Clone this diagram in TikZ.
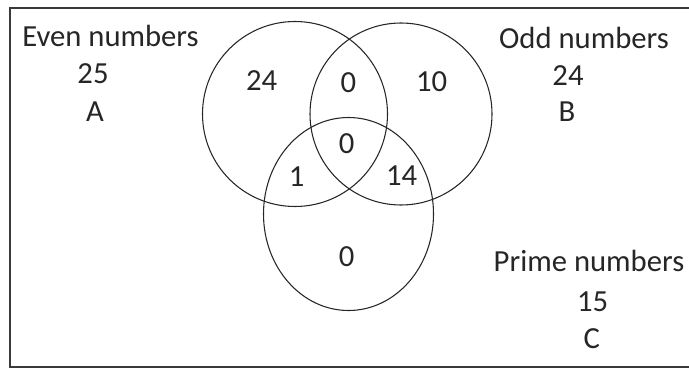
\documentclass[tikz,border=0pt]{standalone}
\usepackage{fontspec}
\setmainfont{Carlito}
\usepackage{tikz}
\usetikzlibrary{positioning}
\definecolor{ink}{HTML}{262626}
\definecolor{rim}{HTML}{3A3A3A}

\begin{document}
\begin{tikzpicture}[x=0.75pt,y=-0.75pt,
  setname/.style={font=\fontsize{23}{27}\selectfont,text=ink,anchor=base,inner sep=0pt},
  count/.style={font=\fontsize{23}{27}\selectfont,text=ink,inner sep=0pt},
  venn/.style={draw=ink,line width=0.8pt}]
  \useasboundingbox (0,0) rectangle (689,371);
  \clip (0,0) rectangle (689,371);
  \draw[rim,line width=1.2pt] (10,8) rectangle (700,367);
  % the three sets
  \draw[venn] (295,114) circle (92.5);
  \draw[venn] (401,114) circle (91);
  \draw[venn] (348.5,214) ellipse (85 and 96.5);
  % set names and totals
  \node[setname] (evenlbl) at (110.5,46.7) {Even numbers};
  \node[setname] (evencnt) at (93,83) {25};
  \node[setname] (evenA) at (95,121.7) {A};
  \node[setname] (oddlbl) at (584,48.3) {Odd numbers};
  \node[setname] (oddcnt) at (568,85) {24};
  \node[setname] (oddB) at (567,121.7) {B};
  \node[setname] (primelbl) at (589,271.7) {Prime numbers};
  \node[setname] (primecnt) at (592.7,311.7) {15};
  \node[setname] (primeC) at (591.7,348) {C};
  % region counts
  \foreach \nm/\x/\y/\v in {onlyA/261.7/80.5/24,AB/348.3/82.7/0,onlyB/431.7/82/10,
      ABC/346.7/144/0,AC/296.7/176.7/1,BC/401.7/176/14,onlyC/346.7/256.7/0}{
    \node[count] (\nm) at (\x,\y) {\v};}
\end{tikzpicture}
\end{document}
